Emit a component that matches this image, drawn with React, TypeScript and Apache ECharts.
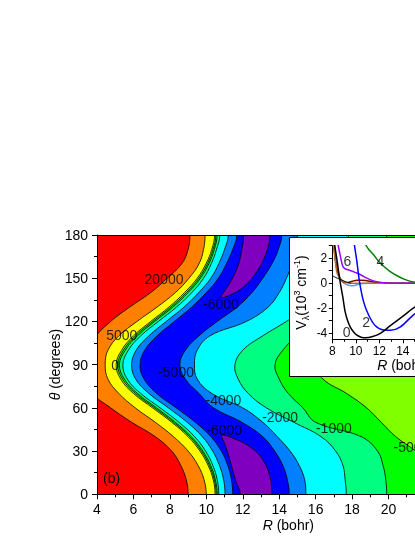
import React, { useEffect, useRef } from "react";
import * as echarts from "echarts";

// ---------- main contour map data (R in bohr at each theta, degrees) ----------
const THETA = [-10, 0, 10, 20, 30, 40, 50, 60, 70, 80, 90, 100, 110, 120, 130, 140, 150, 160, 170, 180, 190];

const C_P20000 = [8.9, 9.0, 8.9, 8.6, 8.1, 7.2, 5.9, 4.75, 3.75, 3.4, 3.3, 3.45, 3.95, 4.75, 5.8, 6.95, 7.85, 8.65, 9.0, 9.1, 9.0];
const C_P5000 = [9.95, 10.0, 9.88, 9.55, 9.0, 8.2, 7.2, 6.1, 5.2, 4.6, 4.45, 4.6, 5.2, 6.2, 7.3, 8.3, 9.05, 9.6, 9.85, 9.93, 9.85];
const C_0 = [10.4, 10.48, 10.38, 10.1, 9.65, 9.0, 8.1, 7.05, 6.0, 5.3, 5.05, 5.35, 6.0, 6.95, 7.95, 8.8, 9.5, 9.98, 10.3, 10.45, 10.3];
const C_M500_IN = [10.46, 10.54, 10.44, 10.17, 9.73, 9.09, 8.2, 7.16, 6.11, 5.4, 5.14, 5.45, 6.11, 7.06, 8.06, 8.9, 9.59, 10.06, 10.37, 10.52, 10.37];
const C_M500_OUT = [23.1, 23.2, 23.0, 22.5, 21.5, 20.4, 19.6, 18.8, 17.7, 16.4, 16.0, 16.2, 17.0, 18.2, 19.5, 20.5, 21.2, 21.6, 21.8, 21.9, 21.8];
const C_M1000_IN = [10.52, 10.6, 10.5, 10.24, 9.81, 9.18, 8.3, 7.27, 6.22, 5.5, 5.23, 5.55, 6.22, 7.17, 8.17, 9.0, 9.68, 10.14, 10.44, 10.59, 10.44];
const C_M1000_OUT = [19.85, 19.9, 19.85, 19.7, 19.4, 18.5, 16.0, 15.3, 14.5, 14.0, 13.77, 14.2, 15.0, 16.3, 17.5, 18.5, 19.2, 19.6, 19.8, 19.9, 19.8];
const C_M2000_IN = [10.62, 10.68, 10.6, 10.36, 9.96, 9.36, 8.5, 7.47, 6.4, 5.66, 5.42, 5.72, 6.4, 7.37, 8.37, 9.2, 9.85, 10.27, 10.56, 10.74, 10.56];
const C_M2000_OUT = [17.6, 17.68, 17.62, 17.5, 17.1, 16.3, 14.8, 13.3, 12.3, 11.75, 11.57, 12.0, 13.1, 14.4, 15.6, 16.5, 17.1, 17.5, 17.7, 17.8, 17.7];
const C_M4000_IN = [11.0, 11.03, 10.95, 10.72, 10.35, 9.78, 8.95, 7.92, 6.85, 6.12, 5.9, 6.15, 6.85, 7.8, 8.78, 9.58, 10.25, 10.68, 11.0, 11.2, 11.0];
const C_M4000_OUT = [15.4, 15.46, 15.4, 15.1, 14.6, 13.9, 13.1, 12.0, 10.3, 9.5, 9.35, 9.5, 10.2, 12.2, 13.4, 14.0, 14.4, 14.7, 14.9, 15.0, 14.9];
const C_M5000_IN = [11.42, 11.45, 11.38, 11.18, 10.82, 10.25, 9.4, 8.35, 7.28, 6.58, 6.36, 6.62, 7.3, 8.25, 9.2, 10.0, 10.66, 11.1, 11.45, 11.67, 11.45];
const C_M5000_OUT = [14.45, 14.55, 14.45, 14.2, 13.75, 13.1, 11.95, 10.4, 9.6, 8.85, 8.55, 8.85, 9.6, 10.6, 11.7, 12.5, 13.1, 13.6, 13.95, 14.14, 13.95];

// -6000 islands (closed rings)
const ISL_LOW_R = [11.85, 11.88, 11.6, 11.38, 11.15, 10.98, 10.85, 11.45, 12.4, 13.1, 13.5, 13.6, 13.55];
const ISL_LOW_TH = [-10, 0, 10, 20, 30, 36, 41, 39, 33, 24, 12, 0, -10];
const ISL_HIGH_R = [10.8, 10.95, 11.35, 11.75, 11.95, 12.04, 11.95, 13.4, 13.5, 13.3, 12.8, 12.05, 11.35];
const ISL_HIGH_TH = [136.5, 140, 148, 159, 170, 180, 190, 190, 180, 168, 155, 144, 138.5];

const LABEL_TEXT = ["20000", "5000", "0", "-6000", "-5000", "-4000", "-6000", "-2000", "-1000", "-500"];
const LABEL_R = [7.68, 5.36, 4.99, 10.8, 8.34, 10.94, 10.98, 14.05, 17.0, 21.05];
const LABEL_TH = [149.4, 110.9, 89.6, 132.2, 84.8, 65.5, 44.7, 53.9, 45.9, 33];

// ---------- inset: V_lambda(R) in 10^3 cm^-1 ----------
const L0_R = [8.05, 8.2, 8.4, 8.66, 8.9, 9.09, 9.3, 9.52, 9.8, 10.09, 10.45, 10.85, 11.37, 12.09, 12.94, 14.08, 15.08, 16.5, 18.0, 20.0];
const L0_V = [4.5, 3.1, 1.85, 0.14, -1.15, -2.28, -3.0, -3.5, -3.9, -4.17, -4.33, -4.38, -4.3, -4.03, -3.41, -2.6, -1.88, -1.3, -0.9, -0.55];
const L2_R = [9.8, 9.89, 10.09, 10.31, 10.66, 11.09, 11.66, 12.37, 12.94, 13.8, 15.08, 16.5, 18.0, 20.0];
const L2_V = [3.8, 3.0, 1.75, 0.14, -1.48, -2.55, -3.41, -3.76, -3.78, -3.5, -2.42, -1.8, -1.3, -0.8];
const L4_R = [10.7, 10.89, 11.2, 11.51, 11.9, 12.37, 12.9, 13.51, 14.1, 14.66, 15.2, 16.0, 18.0, 20.0];
const L4_V = [3.6, 3.0, 2.6, 2.28, 1.8, 1.35, 0.95, 0.59, 0.32, 0.14, 0.06, 0.02, 0.0, 0.0];
const L6_R = [8.45, 8.51, 8.66, 8.89, 9.1, 9.37, 9.7, 10.09, 10.45, 10.8, 11.2, 11.66, 12.37, 13.0, 15.0, 20.0];
const L6_V = [3.5, 3.0, 2.28, 1.35, 1.15, 1.07, 0.95, 0.81, 0.65, 0.46, 0.28, 0.14, 0.03, 0.0, 0.0, 0.0];
const L8_R = [8.05, 8.15, 8.23, 8.37, 8.5, 8.66, 8.85, 9.09, 9.5, 20.0];
const L8_V = [3.6, 2.7, 2.0, 0.94, 0.6, 0.4, 0.2, 0.08, 0.0, 0.0];
const L10_R = [8.1, 8.2, 8.35, 8.55, 8.75, 8.94, 9.3, 9.7, 10.09, 10.5, 10.94, 11.5, 12.37, 13.0, 20.0];
const L10_V = [3.5, 2.4, 1.3, 0.6, 0.25, 0.08, 0.05, 0.15, 0.24, 0.24, 0.19, 0.1, 0.03, 0.0, 0.0];
const L12_R = [8.1, 8.25, 8.45, 8.7, 9.0, 9.3, 9.66, 10.0, 10.4, 11.0, 20.0];
const L12_V = [3.2, 2.0, 1.0, 0.35, 0.0, -0.15, -0.21, -0.15, -0.04, 0.0, 0.0];
const L1_R = [8.0, 8.3, 8.6, 8.94, 9.2, 9.6];
const L1_V = [0.6, 0.45, 0.32, 0.2, 0.08, 0.0];

const INSET_LABEL_TEXT = ["0", "2", "4", "6"];
const INSET_LABEL_R = [9.23, 10.89, 12.09, 9.29];
const INSET_LABEL_V = [-3.95, -3.09, 1.8, 1.8];

const FONT = "'Liberation Sans', Arial, Helvetica, sans-serif";
const R_FAR = 40;

type Region = { inner?: number[]; outer?: number[] | null; ringR?: number[]; ringT?: number[]; color: string };

const REGIONS: Region[] = [
  { inner: C_P20000, outer: null, color: "#FF8000" },
  { inner: C_P5000, outer: null, color: "#FFFF00" },
  { inner: C_0, outer: null, color: "#80FF00" },
  { inner: C_M500_IN, outer: C_M500_OUT, color: "#00FF00" },
  { inner: C_M1000_IN, outer: C_M1000_OUT, color: "#00FF80" },
  { inner: C_M2000_IN, outer: C_M2000_OUT, color: "#00FFFF" },
  { inner: C_M4000_IN, outer: C_M4000_OUT, color: "#0080FF" },
  { inner: C_M5000_IN, outer: C_M5000_OUT, color: "#0000FF" },
  { ringR: ISL_LOW_R, ringT: ISL_LOW_TH, color: "#8000C0" },
  { ringR: ISL_HIGH_R, ringT: ISL_HIGH_TH, color: "#8000C0" },
];

const zip = (a: number[], b: number[]) => a.map((v, i) => [v, b[i]]);

function lineSeries(r: number[], v: number[], color: string, extra: any = {}) {
  return {
    type: "line",
    xAxisIndex: 2,
    yAxisIndex: 1,
    data: zip(r, v),
    symbol: "none",
    smooth: 0.3,
    clip: true,
    lineStyle: { color, width: 1.5 },
    z: 30,
    silent: true,
    ...extra,
  };
}

export default function App() {
  const ref = useRef<HTMLDivElement>(null);
  useEffect(() => {
    const chart = echarts.init(ref.current!, null, { renderer: "svg" });
    const axisCommon = {
      axisLine: { show: true, onZero: false, lineStyle: { color: "#000", width: 1 } },
      splitLine: { show: false },
    };
    const option: any = {
      animation: false,
      textStyle: { fontFamily: FONT, color: "#000" },
      grid: [
        { left: 97, top: 235, width: 382.6, height: 259.3, show: true, backgroundColor: "#FF0000", borderWidth: 0 },
        { left: 332.3, top: 245.7, width: 141, height: 93.6, show: false },
      ],
      xAxis: [
        {
          ...axisCommon,
          gridIndex: 0, type: "value", min: 4, max: 25, interval: 2, position: "bottom", z: 6,
          axisTick: { show: true, length: 5, lineStyle: { color: "#000" } },
          minorTick: { show: true, splitNumber: 2, length: 3, lineStyle: { color: "#000" } },
          axisLabel: {
            fontSize: 14, color: "#000", margin: 8, fontFamily: FONT,
            formatter: (v: number) => (v > 20 ? "" : String(v)),
          },
          name: "{i|R} (bohr)", nameLocation: "middle", nameGap: 24, nameMoveOverlap: false,
          nameTextStyle: { fontSize: 14, color: "#000", fontFamily: FONT, rich: { i: { fontStyle: "italic", fontSize: 14, fontFamily: FONT } } },
        },
        {
          ...axisCommon,
          gridIndex: 0, type: "value", min: 4, max: 25, position: "top", z: 6,
          axisTick: { show: false }, axisLabel: { show: false },
        },
        {
          ...axisCommon,
          gridIndex: 1, type: "value", min: 8, max: 20, interval: 2, position: "bottom", z: 25,
          axisTick: { show: true, length: 4, lineStyle: { color: "#000" } },
          minorTick: { show: true, splitNumber: 2, length: 2.5, lineStyle: { color: "#000" } },
          axisLabel: {
            fontSize: 12, color: "#000", margin: 6, fontFamily: FONT,
            formatter: (v: number) => (v > 14 ? "" : String(v)),
          },
          name: "{i|R} (bohr)", nameLocation: "middle", nameGap: 19, nameMoveOverlap: false,
          nameTextStyle: { fontSize: 14, color: "#000", fontFamily: FONT, rich: { i: { fontStyle: "italic", fontSize: 14, fontFamily: FONT } } },
        },
      ],
      yAxis: [
        {
          ...axisCommon,
          gridIndex: 0, type: "value", min: 0, max: 180, interval: 30, z: 6,
          axisTick: { show: true, length: 5, lineStyle: { color: "#000" } },
          minorTick: { show: true, splitNumber: 2, length: 3, lineStyle: { color: "#000" } },
          axisLabel: { fontSize: 14, color: "#000", margin: 9, fontFamily: FONT },
          name: "{i|θ} (degrees)", nameLocation: "middle", nameGap: 35, nameMoveOverlap: false,
          nameTextStyle: { fontSize: 14, color: "#000", fontFamily: FONT, rich: { i: { fontStyle: "italic", fontSize: 14, fontFamily: FONT } } },
        },
        {
          ...axisCommon,
          gridIndex: 1, type: "value", min: -4.5, max: 3, z: 25,
          axisTick: { show: true, length: 3.5, customValues: [-4, -3, -2, -1, 0, 1, 2, 3], lineStyle: { color: "#000" } },
          axisLabel: { fontSize: 12, color: "#000", margin: 5, fontFamily: FONT, customValues: [-4, -2, 0, 2] },
          name: "V{s|λ}(10{p|3} cm{p|-1})", nameLocation: "middle", nameGap: 22, nameMoveOverlap: false,
          nameTextStyle: {
            fontSize: 14, color: "#000", fontFamily: FONT, lineHeight: 18,
            rich: {
              s: { fontSize: 9, lineHeight: 9, verticalAlign: "bottom", fontFamily: FONT },
              p: { fontSize: 9, lineHeight: 9, verticalAlign: "top", fontFamily: FONT },
            },
          },
        },
      ],
      graphic: [
        {
          type: "rect", z: 20,
          shape: { x: 289.5, y: 237.5, width: 189, height: 139 },
          style: { fill: "#fff", stroke: "#000", lineWidth: 1 },
        },
        {
          type: "text", z: 8, x: 103, y: 478,
          style: { text: "(b)", fontSize: 14, fontFamily: FONT, fill: "#000", verticalAlign: "middle", align: "left" },
        },
      ],
      series: [
        {
          type: "custom",
          xAxisIndex: 0, yAxisIndex: 0,
          clip: true, silent: true, z: 2,
          data: REGIONS.map(() => [10, 90]),
          renderItem: (params: any, api: any) => {
            const reg = REGIONS[params.dataIndex];
            const pts: number[][] = [];
            if (reg.ringR) {
              for (let i = 0; i < reg.ringR.length; i++) pts.push(api.coord([reg.ringR[i], reg.ringT![i]]));
            } else {
              for (let i = 0; i < THETA.length; i++) pts.push(api.coord([reg.inner![i], THETA[i]]));
              for (let i = THETA.length - 1; i >= 0; i--) pts.push(api.coord([reg.outer ? reg.outer[i] : R_FAR, THETA[i]]));
            }
            return {
              type: "polygon",
              shape: { points: pts, smooth: 0.4 },
              style: { fill: reg.color, stroke: "#000", lineWidth: 0.8 },
            };
          },
        },
        {
          type: "scatter",
          xAxisIndex: 0, yAxisIndex: 0, z: 5, silent: true,
          symbolSize: 0,
          data: LABEL_TEXT.map((t, i) => ({ name: t, value: [LABEL_R[i], LABEL_TH[i]] })),
          label: { show: true, position: "inside", formatter: (p: any) => p.name, fontSize: 14, color: "#000", fontFamily: FONT },
        },
        lineSeries(L12_R, L12_V, "#5FA0E0"),
        lineSeries(L10_R, L10_V, "#800000"),
        lineSeries(L8_R, L8_V, "#C07020"),
        lineSeries(L1_R, L1_V, "#000000", { lineStyle: { color: "#000", width: 1 } }),
        lineSeries(L6_R, L6_V, "#9900FF"),
        lineSeries(L4_R, L4_V, "#008000"),
        lineSeries(L2_R, L2_V, "#0000FF"),
        lineSeries(L0_R, L0_V, "#000000", {
          markLine: {
            silent: true, symbol: ["none", "none"], label: { show: false },
            lineStyle: { color: "#000", width: 1.6, type: "solid" },
            data: [{ yAxis: 0 }],
          },
        }),
        {
          type: "scatter",
          xAxisIndex: 2, yAxisIndex: 1, z: 31, silent: true,
          symbolSize: 0,
          data: INSET_LABEL_TEXT.map((t, i) => ({ name: t, value: [INSET_LABEL_R[i], INSET_LABEL_V[i]] })),
          label: { show: true, position: "inside", formatter: (p: any) => p.name, fontSize: 14, color: "#000", fontFamily: FONT },
        },
      ],
    };
    chart.setOption(option);
    return () => chart.dispose();
  }, []);
  return <div ref={ref} style={{ position: "fixed", left: 0, top: 0, width: 500, height: 537 }} />;
}
